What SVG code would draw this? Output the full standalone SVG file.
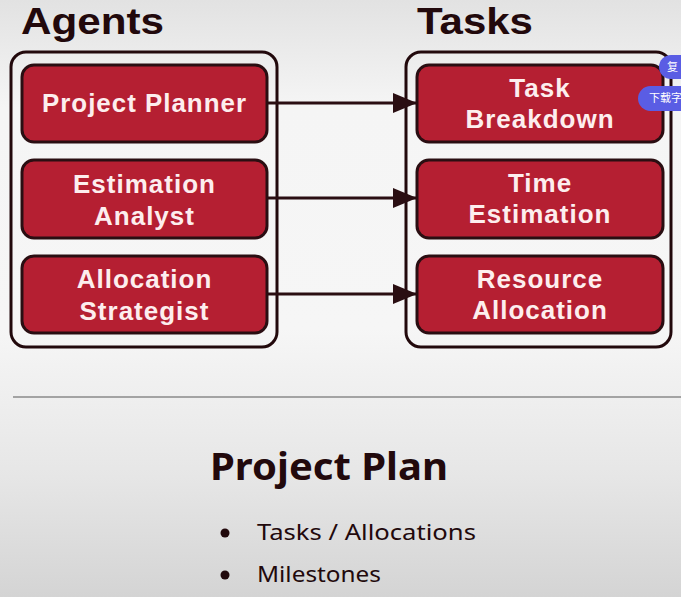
<svg xmlns="http://www.w3.org/2000/svg" width="681" height="597" viewBox="0 0 681 597">
<defs>
<linearGradient id="bg" x1="0" y1="0" x2="0" y2="1">
<stop offset="0" stop-color="#e2e2e2"/>
<stop offset="0.18" stop-color="#f5f5f5"/>
<stop offset="0.55" stop-color="#f6f6f6"/>
<stop offset="0.8" stop-color="#e6e6e6"/>
<stop offset="1" stop-color="#d4d4d4"/>
</linearGradient>
<marker id="arrow" viewBox="0 0 24 20" refX="24" refY="10" markerWidth="24" markerHeight="20" markerUnits="userSpaceOnUse" orient="auto">
<path d="M0,0 L24,10 L0,20 z" fill="#2a0e12"/>
</marker>
</defs>
<style>
.title{font-family:"Liberation Sans",Arial,sans-serif;font-weight:700;font-size:36.5px;fill:#22090c}
.cont{fill:none;stroke:#22090c;stroke-width:3}
.node rect{fill:#b51f32;stroke:#2a0e12;stroke-width:3}
.node text{font-family:"Liberation Sans",Arial,sans-serif;font-weight:700;font-size:26px;letter-spacing:1px;fill:#fdeeee;text-anchor:middle}
.conn line{stroke:#2a0e12;stroke-width:3}
.plan{font-family:"Noto Sans","Open Sans",sans-serif;font-weight:700;font-size:37px;fill:#22090c}
.item{font-family:"Noto Sans","Open Sans",sans-serif;font-weight:400;font-size:22px;fill:#22090c}
.pill{fill:#5a5de4}
.pilltxt{font-family:"Noto Sans CJK SC",sans-serif;font-size:11px;fill:#ffffff}
</style>
<rect width="681" height="597" fill="url(#bg)"/>
<text class="title" x="21" y="33.5" textLength="143" lengthAdjust="spacingAndGlyphs">Agents</text>
<text class="title" x="417" y="33.5" textLength="116" lengthAdjust="spacingAndGlyphs">Tasks</text>
<rect class="cont" x="11" y="52" width="266" height="295" rx="15"/>
<rect class="cont" x="406" y="52" width="265" height="295" rx="15"/>
<g class="conn">
<line x1="267" y1="103" x2="417" y2="103" marker-end="url(#arrow)"/>
<line x1="267" y1="198" x2="417" y2="198" marker-end="url(#arrow)"/>
<line x1="267" y1="294" x2="417" y2="294" marker-end="url(#arrow)"/>
</g>
<g id="project-planner" class="node">
<rect x="22" y="65" width="245" height="77" rx="12"/>
<text x="144.5" y="112" textLength="205" lengthAdjust="spacingAndGlyphs">Project Planner</text>
</g>
<g id="estimation-analyst" class="node">
<rect x="22" y="160" width="245" height="78" rx="12"/>
<text x="144.5" y="193">Estimation</text>
<text x="144.5" y="225">Analyst</text>
</g>
<g id="allocation-strategist" class="node">
<rect x="22" y="256" width="245" height="77" rx="12"/>
<text x="144.5" y="288">Allocation</text>
<text x="144.5" y="320">Strategist</text>
</g>
<g id="task-breakdown" class="node">
<rect x="417" y="65" width="246" height="77" rx="12"/>
<text x="540" y="97">Task</text>
<text x="540" y="128">Breakdown</text>
</g>
<g id="time-estimation" class="node">
<rect x="417" y="160" width="246" height="78" rx="12"/>
<text x="540" y="192">Time</text>
<text x="540" y="223">Estimation</text>
</g>
<g id="resource-allocation" class="node">
<rect x="417" y="256" width="246" height="77" rx="12"/>
<text x="540" y="288">Resource</text>
<text x="540" y="319">Allocation</text>
</g>
<line x1="13" y1="397" x2="681" y2="397" stroke="#8a8a8a" stroke-width="1.5"/>
<text class="plan" x="210" y="480" textLength="238" lengthAdjust="spacingAndGlyphs">Project Plan</text>
<circle cx="225" cy="533" r="4.5" fill="#22090c"/>
<circle cx="225" cy="575" r="4.5" fill="#22090c"/>
<text class="item" x="257" y="540" textLength="219" lengthAdjust="spacingAndGlyphs">Tasks / Allocations</text>
<text class="item" x="257" y="582" textLength="124" lengthAdjust="spacingAndGlyphs">Milestones</text>
<g id="overlay">
<rect class="pill" x="659" y="55" width="34" height="24" rx="12"/>
<text class="pilltxt" x="667" y="71">复</text>
<rect class="pill" x="638" y="86" width="56" height="25" rx="12.5"/>
<text class="pilltxt" x="649" y="102">下载字</text>
</g>
</svg>
